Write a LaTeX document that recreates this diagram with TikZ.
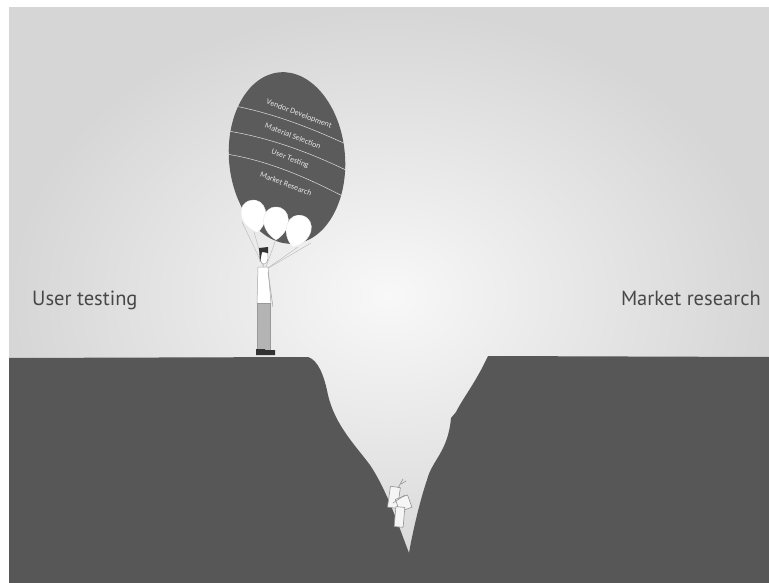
\documentclass[tikz,border=0pt]{standalone}
\usepackage{fontspec}
\setmainfont{PT Sans}
\newfontfamily\labelfont{PT Sans}
\newfontfamily\tagfont{Carlito}
\definecolor{skydark}{HTML}{D6D6D6}
\definecolor{skylight}{HTML}{F8F8F8}
\definecolor{rock}{HTML}{575757}
\definecolor{balloon}{HTML}{5B5B5B}
\definecolor{tagtext}{HTML}{E6E6E6}
\definecolor{labeltext}{HTML}{474747}
\definecolor{pants}{HTML}{B4B4B4}
\begin{document}
\begin{tikzpicture}[x=1pt,y=-1pt,line join=round,line cap=round,
	tag/.style={font=\tagfont\fontsize{8}{9}\selectfont,text=tagtext,rotate=-21,inner sep=0pt},
	side/.style={font=\labelfont\fontsize{20.5}{24}\selectfont,text=labeltext,inner sep=0pt},
	string/.style={draw=gray!60,line width=0.35pt},
	bulb/.style={fill=white,draw=gray!20,line width=0.3pt},
	outline/.style={draw=gray!70,line width=0.5pt},
	divider/.style={draw=white!75!gray,line width=0.5pt}]
	\useasboundingbox (0,0) rectangle (769,583);
	% sky
	\fill[white] (0,0) rectangle (769,583);
	\shade[inner color=skylight,outer color=skydark] (9,8) rectangle (769,583);
	% the two cliffs and the gap
	\fill[rock] (9,358) -- (308,357)
		.. controls (318,360) and (324,375) .. (328,395)
		.. controls (335,425) and (355,445) .. (370,465)
		.. controls (388,492) and (400,530) .. (409,553)
		.. controls (412,535) and (420,500) .. (427,480)
		.. controls (432,460) and (448,452) .. (451,418)
		-- (456,412)
		.. controls (463,398) and (476,382) .. (488,356)
		-- (769,357) -- (769,583) -- (9,583) -- cycle;
	% balloon
	\begin{scope}
		\clip[rotate around={5:(287,158)}] (287,158) ellipse [x radius=58, y radius=86];
		\fill[balloon] (200,50) rectangle (380,270);
		\draw[divider] (235,106) .. controls (270,113) and (305,125) .. (350,146);
		\draw[divider] (228,131) .. controls (265,137) and (305,150) .. (350,172);
		\draw[divider] (226,154) .. controls (265,160) and (305,176) .. (350,200);
	\end{scope}
	\node[tag] (vendor) at (299,114) {Vendor Development};
	\node[tag] (material) at (293,136) {Material Selection};
	\node[tag] (testing) at (290,159) {User Testing};
	\node[tag] (research) at (286,184) {Market Research};
	% the man
	\coordinate (H) at (265,270);
	\foreach \bx/\by in {254/216, 276/223, 298/231}
		\draw[string] (\bx,\by+16) -- (H);
	\foreach \bx/\by/\tilt in {254/216/12, 276/223/0, 298/231/-18}
		\filldraw[bulb,rotate around={\tilt:(\bx,\by)}] (\bx,\by+17) .. controls (\bx-18,\by+6) and (\bx-15,\by-16) .. (\bx,\by-16)
			.. controls (\bx+15,\by-16) and (\bx+18,\by+6) .. (\bx,\by+17);
	\draw[string] (242,222) -- (H) (311,243) -- (H);
	\filldraw[fill=white,outline] (258,267) -- (268,267) -- (271,304) -- (257,304) -- cycle;
	\filldraw[fill=pants,draw=gray!80] (257,303) rectangle (270,350);
	\fill[black!80] (256,349) rectangle (265,355) (265,350) rectangle (275,355);
	\draw[outline] (268,272) -- (273,307);
	\filldraw[fill=white,outline] (264,257) ellipse [x radius=4, y radius=7];
	\fill[black!80] (259,248) -- (268,247) -- (268,253) -- (262,252) -- (260,262) -- cycle;
	% the one who fell
	\begin{scope}[fill=white!92!gray,draw=gray!85,line width=0.6pt]
		\filldraw[rotate around={-8:(395,497)}] (389,487) rectangle (399,508);
		\filldraw[rotate around={20:(403,503)}] (397,497) rectangle (410,510);
		\filldraw[rotate around={-5:(400,517)}] (395,507) rectangle (404,527);
		\draw (398,488) -- (403,479) (401,484) -- (406,481) (393,503) -- (405,495);
	\end{scope}
	% labels
	\node[side,anchor=base west] (left) at (32,305) {User testing};
	\node[side,anchor=base east] (right) at (761,305) {Market research};
\end{tikzpicture}
\end{document}
